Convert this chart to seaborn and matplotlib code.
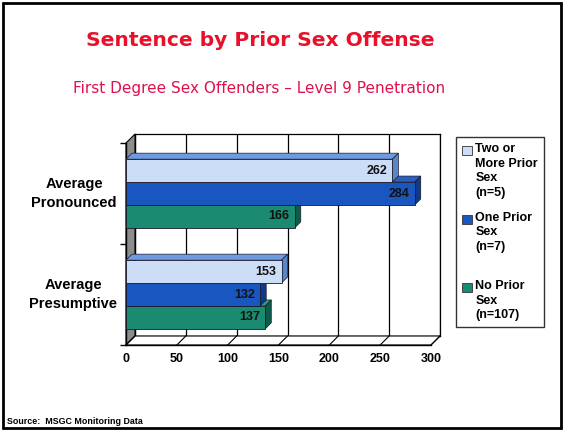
import matplotlib
matplotlib.use("Agg")
import matplotlib.pyplot as plt
import matplotlib.patches as mpatches
from matplotlib.transforms import IdentityTransform
import seaborn as sns
import pandas as pd

# ---- data ----
categories = ["Average\nPronounced", "Average\nPresumptive"]
series = ["Two or\nMore Prior\nSex\n(n=5)", "One Prior\nSex\n(n=7)", "No Prior\nSex\n(n=107)"]
two_or_more = [262, 153]
one_prior = [284, 132]
no_prior = [166, 137]
x_ticks = [0, 50, 100, 150, 200, 250, 300]

title = "Sentence by Prior Sex Offense"
subtitle = "First Degree Sex Offenders \u2013 Level 9 Penetration"
source = "Source:  MSGC Monitoring Data"

colors = ["#CCDDF8", "#1A56C0", "#1A8A70"]
top_colors = ["#6E9BE0", "#2B5FBF", "#2E9A7E"]
side_colors = ["#5A86C8", "#0E3A8C", "#0E5C48"]

rows = []
for s, vals in zip(series, [two_or_more, one_prior, no_prior]):
    for c, v in zip(categories, vals):
        rows.append({"category": c, "series": s, "value": v})
df = pd.DataFrame(rows)

sns.set_theme(style="white")
plt.rcParams["font.family"] = ["Liberation Sans", "DejaVu Sans"]
plt.rcParams["text.color"] = "black"

W, H = 571, 434
fig = plt.figure(figsize=(W / 100, H / 100), dpi=100)
fig.patch.set_facecolor("white")

def fx(px):
    return px / W

def fy(py):
    return 1 - py / H

# geometry (pixels from top-left)
L, R, T, B = 126, 431, 143, 345
D = 9  # wall depth

# back wall axes
axb = fig.add_axes([fx(L + D), fy(B - D), (R - L) / W, (B - T) / H])
axb.set_zorder(0)
axb.set_xlim(0, 300)
axb.set_ylim(0, 1)
axb.set_xticks(x_ticks)
axb.set_yticks([])
axb.tick_params(labelbottom=False, length=0)
axb.grid(axis="x", color="black", linewidth=0.9)
for sp in axb.spines.values():
    sp.set_color("black")
    sp.set_linewidth(0.9)
axb.set_facecolor("white")

# front axes with bars
ax = fig.add_axes([fx(L), fy(B), (R - L) / W, (B - T) / H])
ax.set_zorder(3)
ax.set_facecolor("none")
sns.barplot(data=df, y="category", x="value", hue="series", hue_order=series,
            order=categories, palette=colors, saturation=1, orient="h", width=0.68,
            edgecolor="#1a1a2a", linewidth=0.6, ax=ax, legend=True)
ax.set_xlim(0, 300)
ax.set_xticks(x_ticks)
ax.set_xlabel("")
ax.set_ylabel("")
for sp in ["top", "right"]:
    ax.spines[sp].set_visible(False)
for sp in ["left", "bottom"]:
    ax.spines[sp].set_color("black")
    ax.spines[sp].set_linewidth(1.0)
ax.tick_params(axis="x", length=0, pad=6, labelsize=9)
ax.tick_params(axis="y", which="major", length=0, pad=6.5, labelsize=10.5)
for lab in ax.get_xticklabels() + ax.get_yticklabels():
    lab.set_fontweight("bold")
    lab.set_color("black")
for lab in ax.get_yticklabels():
    lab.set_multialignment("center")
    lab.set_linespacing(1.45)
    lab.set_verticalalignment("center")
ax.set_yticks([-0.5, 0.5, 1.5], minor=True)
ax.tick_params(axis="y", which="minor", length=4, color="black", direction="out", width=1, left=True)

fig.canvas.draw()
td = ax.transData

# left wall and floor (decoration), between back wall and front axes
x0d, ytopd = td.transform((0, -0.5))
_, ybotd = td.transform((0, 1.5))
wall = mpatches.Polygon([(x0d, ytopd), (x0d, ybotd), (x0d + D, ybotd + D), (x0d + D, ytopd + D)],
                        closed=True, facecolor="#8C8C8C", edgecolor="black", linewidth=0.8,
                        transform=IdentityTransform(), zorder=1)
fig.patches.append(wall)
xRd, _ = td.transform((300, 1.5))
floor = mpatches.Polygon([(x0d, ybotd), (xRd, ybotd), (xRd + D, ybotd + D), (x0d + D, ybotd + D)],
                         closed=True, facecolor="white", edgecolor="black", linewidth=0.8,
                         transform=IdentityTransform(), zorder=1)
fig.patches.append(floor)
for t in x_ticks:
    xd, _ = td.transform((t, 1.5))
    ln = plt.Line2D([xd, xd + D], [ybotd, ybotd + D], color="black", linewidth=0.8,
                    transform=IdentityTransform(), zorder=1.1)
    fig.lines.append(ln)

# 3D faces for bars + value labels
d = 6
for si, cont in enumerate(ax.containers):
    z = 5 - si
    for bar, val in zip(cont.patches, cont.datavalues):
        bar.set_zorder(z)
        bx, by = bar.get_x(), bar.get_y()
        bw, bh = bar.get_width(), bar.get_height()
        (xa, ya) = td.transform((bx, by + bh))
        (xb, yb) = td.transform((bx + bw, by))
        ylo, yhi = min(ya, yb), max(ya, yb)
        top = mpatches.Polygon([(xa, yhi), (xb, yhi), (xb + d, yhi + d), (xa + d, yhi + d)],
                               closed=True, facecolor=top_colors[si], edgecolor="#1a1a2a",
                               linewidth=0.5, transform=IdentityTransform(), zorder=z - 0.1,
                               clip_on=False)
        side = mpatches.Polygon([(xb, ylo), (xb, yhi), (xb + d, yhi + d), (xb + d, ylo + d)],
                                closed=True, facecolor=side_colors[si], edgecolor="#1a1a2a",
                                linewidth=0.5, transform=IdentityTransform(), zorder=z - 0.1,
                                clip_on=False)
        ax.add_patch(top)
        ax.add_patch(side)
        ax.text(val - 5, by + bh / 2, f"{int(val)}", ha="right", va="center",
                fontsize=9, fontweight="bold", color="#111111", zorder=10)

# legend
handles, _ = ax.get_legend_handles_labels()
leg_labels = [series[0], series[1] + "\n", series[2]]
fs = 9
ls = 1.27
leg = ax.legend(handles, leg_labels, loc="upper left", bbox_to_anchor=(fx(456), fy(137)),
                bbox_transform=fig.transFigure, borderaxespad=0, frameon=True, fancybox=False,
                edgecolor="black", handlelength=0.75, handleheight=0.75, handletextpad=0.3,
                labelspacing=1.05, borderpad=0.5, prop={"weight": "bold", "size": fs},
                labelcolor="black")
leg.get_frame().set_linewidth(1.0)
for t in leg.get_texts():
    t.set_linespacing(ls)
    t.set_color("black")
fig.canvas.draw()
for h, t in zip(leg.legend_handles, leg.get_texts()):
    h.set_edgecolor("#333333")
    tb = t.get_window_extent()
    n = t.get_text().count("\n") + 1
    hb = h.get_window_extent()
    line_h = tb.height / n
    target_center = tb.y1 - line_h * 0.55
    shift_px = target_center - (hb.y0 + hb.y1) / 2
    h.set_y(h.get_y() + shift_px * 72 / fig.dpi)

# titles and source
fig.text(fx(260), fy(40), title, ha="center", va="center", fontsize=14.6,
         fontweight="bold", color="#E8102A", family=["DejaVu Sans"])
fig.text(fx(259), fy(88), subtitle, ha="center", va="center", fontsize=11,
         color="#E0104A", family=["DejaVu Sans"])
fig.text(fx(7), fy(421), source, ha="left", va="center", fontsize=6.4,
         fontweight="bold", color="black")

# outer frame
frame = mpatches.Rectangle((fx(3), fy(428)), fx(561) - fx(3), fy(3) - fy(428),
                           transform=fig.transFigure, fill=False, edgecolor="black",
                           linewidth=2.0)
fig.patches.append(frame)

fig.savefig("out.png", dpi=100, facecolor="white")
